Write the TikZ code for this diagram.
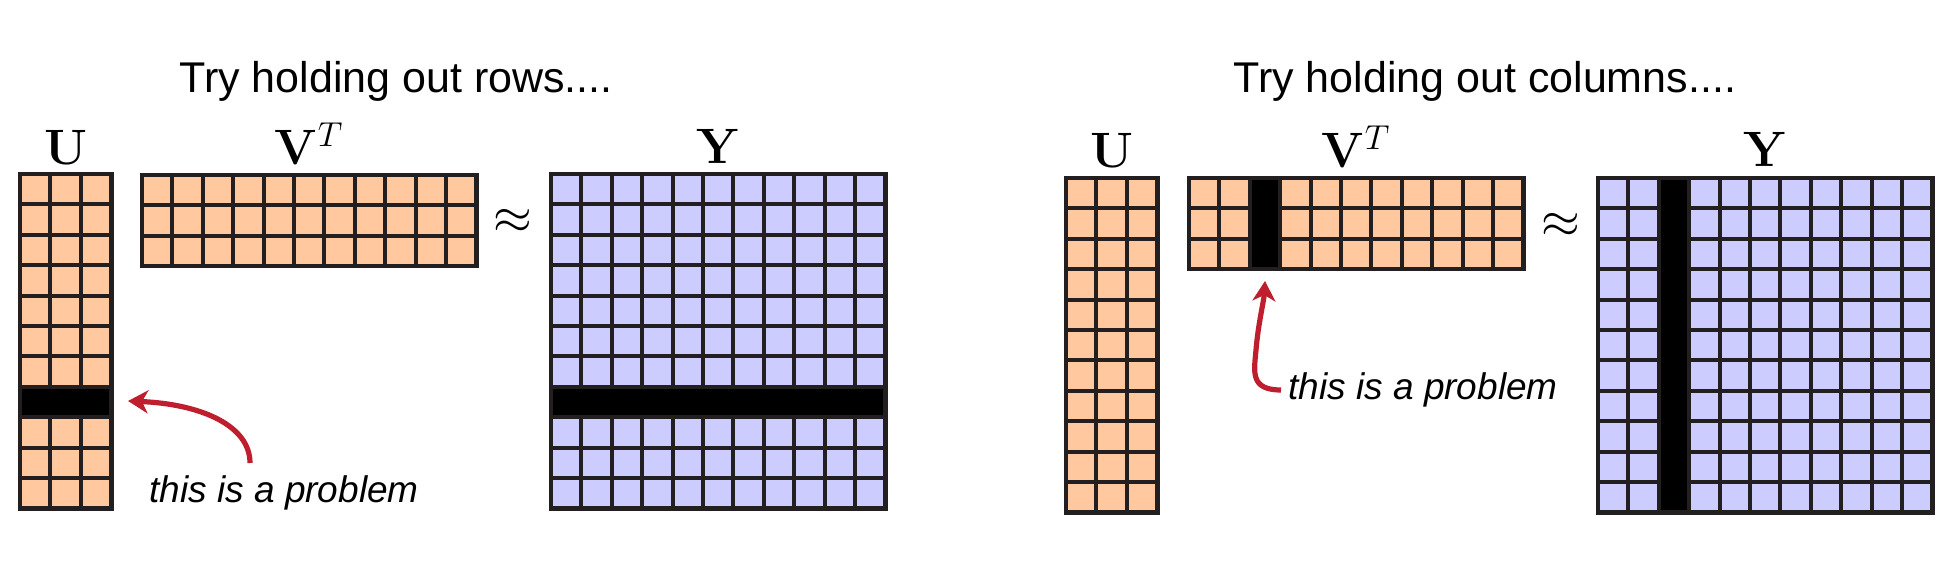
\documentclass[tikz,border=0pt]{standalone}
\usepackage[no-math]{fontspec}
\newfontfamily\arialf{Liberation Sans}
\usetikzlibrary{arrows.meta}
\definecolor{peach}{RGB}{255,200,158}
\definecolor{lav}{RGB}{204,204,255}
\definecolor{gline}{RGB}{35,31,32}
\definecolor{pred}{RGB}{190,30,45}
\def\p{30.4}
% #1 name, #2 x0, #3 y0, #4 cols, #5 rows, #6 colour, #7 black row (0 none), #8 black column (0 none)
\newcommand{\mgrid}[8]{%
  \fill[#6] (#2,#3) rectangle ++({#4*\p},{#5*\p});
  \pgfmathtruncatemacro{\mgc}{#4-1}
  \pgfmathtruncatemacro{\mgr}{#5-1}
  \foreach \i in {1,...,\mgc} \draw[gl] ({#2+\i*\p},#3) -- ++(0,{#5*\p});
  \ifnum#7>0 \fill[black] (#2,{#3+(#7-1)*\p}) rectangle ++({#4*\p},\p);\fi
  \foreach \j in {1,...,\mgr} \draw[gl] (#2,{#3+\j*\p}) -- ++({#4*\p},0);
  \ifnum#8>0 \fill[black] ({#2+(#8-1)*\p+2},#3) rectangle ++({\p-4},{#5*\p});\fi
  \node[mat, minimum width={#4*\p*0.5pt}, minimum height={#5*\p*0.5pt}] (#1) at (#2,#3) {};
}
\begin{document}
\begin{tikzpicture}[x=0.5pt,y=-0.5pt,
  mat/.style={draw=gline, line width=2.3pt, inner sep=0pt, outer sep=0pt, anchor=north west},
  gl/.style={draw=gline, line width=2pt},
  lab/.style={font=\fontsize{23}{28}\selectfont, anchor=base, inner sep=0pt},
  ttl/.style={font=\arialf\fontsize{21.5}{26}\selectfont, anchor=base west, inner sep=0pt},
  note/.style={font=\arialf\itshape\fontsize{18.5}{22}\selectfont, anchor=base west, inner sep=0pt},
  probarrow/.style={draw=pred, line width=2.6pt, -{Stealth[length=10pt,width=11.5pt,inset=3pt]}},
]
\useasboundingbox (0,0) rectangle (1950,566);

% titles
\node[ttl] (t1) at (179,93) {Try holding out rows....};
\node[ttl] (t2) at (1233,93) {Try holding out columns....};

% left group
\mgrid{U1}{20}{174}{3}{11}{peach}{8}{0}
\mgrid{V1}{142}{175}{11}{3}{peach}{0}{0}
\mgrid{Y1}{551}{174}{11}{11}{lav}{8}{0}
\node[lab] (lU1) at (65.6,165) {$\mathbf{U}$};
\node[lab] (lV1) at (309,165) {$\mathbf{V}^T$};
\node[lab] (lY1) at (718,164) {$\mathbf{Y}$};
\node[lab, anchor=center] (ap1) at (513,221) {$\approx$};

% right group
\mgrid{U2}{1066}{178}{3}{11}{peach}{0}{0}
\mgrid{V2}{1189}{178}{11}{3}{peach}{0}{3}
\mgrid{Y2}{1598}{178}{11}{11}{lav}{0}{3}
\node[lab] (lU2) at (1111.6,168) {$\mathbf{U}$};
\node[lab] (lV2) at (1356,168) {$\mathbf{V}^T$};
\node[lab] (lY2) at (1765,167) {$\mathbf{Y}$};
\node[lab, anchor=center] (ap2) at (1561,225) {$\approx$};

% notes and arrows
\node[note] (n1) at (149,503) {this is a problem};
\node[note] (n2) at (1288,400) {this is a problem};
\coordinate (a1s) at (250,463);
\coordinate (a1t) at (128,401);
\draw[probarrow] (a1s) .. controls (250,425) and (200,404) .. (a1t);
\coordinate (a2s) at (1281,390);
\coordinate (a2t) at (1265,281);
\draw[probarrow] (a2s) .. controls (1250,390) and (1254,372) .. (1256,350) .. controls (1258,325) and (1264,300) .. (a2t);
\end{tikzpicture}
\end{document}
